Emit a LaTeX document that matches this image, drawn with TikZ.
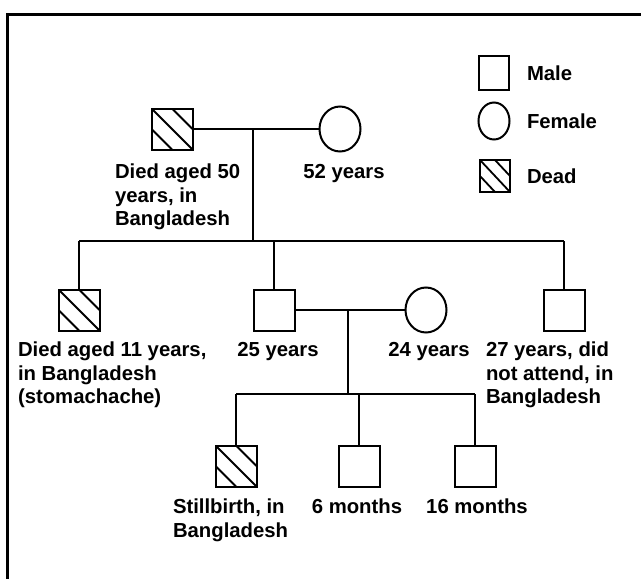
\documentclass[tikz,border=0pt]{standalone}
\usepackage{fontspec}
\setmainfont{Liberation Sans}
\usetikzlibrary{shapes.geometric}
\begin{document}
\begin{tikzpicture}[x=1pt,y=-1pt,
  line width=2pt,
  male/.style={draw, rectangle, minimum width=41pt, minimum height=41pt, inner sep=0pt, outer sep=0pt},
  female/.style={draw, ellipse, minimum width=41pt, minimum height=45pt, inner sep=0pt, outer sep=0pt},
  dead/.style={male, path picture={\draw[line width=1.8pt]
     (path picture bounding box.north west) -- (path picture bounding box.south east)
     (path picture bounding box.north) -- (path picture bounding box.east)
     (path picture bounding box.west) -- (path picture bounding box.south);}},
  lgmale/.style={male, minimum width=30pt, minimum height=34pt},
  lgfemale/.style={female, minimum width=31pt, minimum height=37pt},
  lgdead/.style={dead, minimum width=30pt, minimum height=32pt},
  lbl/.style={font=\bfseries\fontsize{20.3}{23.3}\selectfont, align=left, inner sep=0pt, anchor=north west},
  lblc/.style={font=\bfseries\fontsize{20.3}{23.3}\selectfont, align=center, inner sep=0pt, anchor=north},
  frame/.style={line width=3pt}
]
\useasboundingbox (0,0) rectangle (641,579);
\fill[white] (0,0) rectangle (641,579);
% frame
\coordinate (fb) at (7,579);
\coordinate (fc) at (7,14);
\coordinate (fr) at (641,14);
\draw[frame] (fb) -- (fc) -- (fr);

% legend
\node[lgmale] (lm) at (494,73) {};
\node[lbl, anchor=west] (lmt) at (526,73) {Male};
\node[lgfemale] (lf) at (494,121) {};
\node[lbl, anchor=west] (lft) at (526,121) {Female};
\node[lgdead] (ld) at (495,176) {};
\node[lbl, anchor=west] (ldt) at (526,176) {Dead};

% generation I
\node[dead] (A) at (172,129) {};
\node[female] (B) at (340,129) {};
\draw (A) -- (B);
\node[lbl] (At) at (114,163) {Died aged 50\\years, in\\Bangladesh};
\node[lblc] (Bt) at (344,163) {52 years};
\coordinate (m1) at (253,129);
\coordinate (s1) at (253,241);
\draw (m1) -- (s1);
\coordinate (sl1) at (79,241);
\coordinate (sr1) at (564,241);
\draw (sl1) -- (sr1);

% generation II
\node[dead] (C) at (79,310) {};
\node[male] (D) at (274,310) {};
\node[female] (E) at (426,310) {};
\node[male] (F) at (564,310) {};
\draw (sl1) -- (C);
\draw (D |- s1) -- (D);
\draw (sr1) -- (F);
\draw (D) -- (E);
\node[lbl] (Ct) at (17,341) {Died aged 11 years,\\in Bangladesh\\(stomachache)};
\node[lblc] (Dt) at (278,341) {25 years};
\node[lblc] (Et) at (429,341) {24 years};
\node[lbl] (Ft) at (485,341) {27 years, did\\not attend, in\\Bangladesh};
\coordinate (m2) at (348,310);
\coordinate (s2) at (348,394);
\draw (m2) -- (s2);
\coordinate (sl2) at (236,394);
\coordinate (sr2) at (475,394);
\draw (sl2) -- (sr2);

% generation III
\node[dead] (G) at (236,466) {};
\node[male] (H) at (359,466) {};
\node[male] (I) at (475,466) {};
\draw (sl2) -- (G);
\draw (H |- s2) -- (H);
\draw (sr2) -- (I);
\node[lbl] (Gt) at (172,498) {Stillbirth, in\\Bangladesh};
\node[lblc] (Ht) at (357,498) {6 months};
\node[lblc] (It) at (477,498) {16 months};
\end{tikzpicture}
\end{document}
